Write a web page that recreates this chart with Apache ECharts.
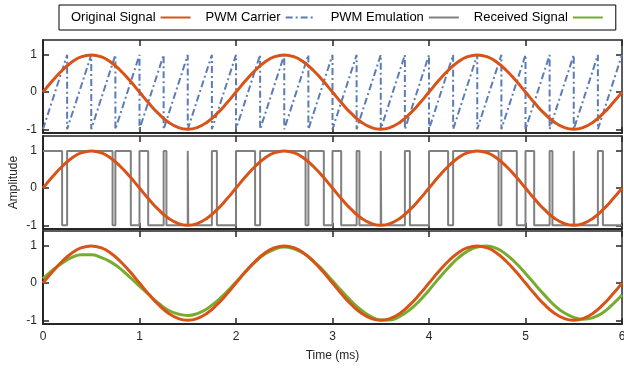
<!DOCTYPE html>
<html>
<head>
<meta charset="utf-8">
<script src="https://cdn.jsdelivr.net/npm/echarts@6/dist/echarts.min.js"></script>
<style>
  html, body { margin: 0; padding: 0; background: #fff; }
  #chart { width: 624px; height: 368px; }
</style>
</head>
<body>
<div id="chart"></div>
<script>
// sample times (ms) for the smooth curves
const sampleTimes = [
  0, 0.1, 0.2, 0.3, 0.4, 0.5, 0.6, 0.7, 0.8, 0.9,
  1, 1.1, 1.2, 1.3, 1.4, 1.5, 1.6, 1.7, 1.8, 1.9,
  2, 2.1, 2.2, 2.3, 2.4, 2.5, 2.6, 2.7, 2.8, 2.9,
  3, 3.1, 3.2, 3.3, 3.4, 3.5, 3.6, 3.7, 3.8, 3.9,
  4, 4.1, 4.2, 4.3, 4.4, 4.5, 4.6, 4.7, 4.8, 4.9,
  5, 5.1, 5.2, 5.3, 5.4, 5.5, 5.6, 5.7, 5.8, 5.9,
  6
]
const originalSignal = [
  0, 0.309, 0.588, 0.809, 0.951, 1, 0.951, 0.809, 0.588, 0.309,
  0, -0.309, -0.588, -0.809, -0.951, -1, -0.951, -0.809, -0.588, -0.309,
  0, 0.309, 0.588, 0.809, 0.951, 1, 0.951, 0.809, 0.588, 0.309,
  0, -0.309, -0.588, -0.809, -0.951, -1, -0.951, -0.809, -0.588, -0.309,
  0, 0.309, 0.588, 0.809, 0.951, 1, 0.951, 0.809, 0.588, 0.309,
  0, -0.309, -0.588, -0.809, -0.951, -1, -0.951, -0.809, -0.588, -0.309,
  0
]
const receivedSignal = [
  0.12, 0.35, 0.54, 0.69, 0.76, 0.76, 0.69, 0.57, 0.39, 0.16,
  -0.08, -0.32, -0.55, -0.73, -0.83, -0.87, -0.82, -0.69, -0.49, -0.25,
  0.03, 0.31, 0.57, 0.78, 0.91, 0.97, 0.92, 0.80, 0.60, 0.35,
  0.06, -0.23, -0.50, -0.73, -0.90, -0.99, -0.99, -0.89, -0.72, -0.48,
  -0.19, 0.12, 0.41, 0.67, 0.86, 0.97, 1.0, 0.93, 0.77, 0.54,
  0.26, -0.04, -0.33, -0.60, -0.80, -0.92, -0.97, -0.93, -0.80, -0.58,
  -0.32
]
// sawtooth carrier: ramps -1 -> 1, resets at these times
const carrierResets = [
  0.25, 0.5, 0.75, 1, 1.25, 1.5, 1.75, 2,
  2.25, 2.5, 2.75, 3, 3.25, 3.5, 3.75, 4,
  4.25, 4.5, 4.75, 5, 5.25, 5.5, 5.75, 6
]
// PWM output starts high at t=0 and toggles at these times
const pwmEdges = [
  0.198, 0.25, 0.721, 0.75, 0.91, 1.0, 1.09, 1.25, 1.279, 1.5, 1.505, 1.75, 1.802, 2.0,
  2.198, 2.25, 2.721, 2.75, 2.91, 3.0, 3.09, 3.25, 3.279, 3.5, 3.505, 3.75, 3.802, 4.0,
  4.198, 4.25, 4.721, 4.75, 4.91, 5.0, 5.09, 5.25, 5.279, 5.5, 5.505, 5.75, 5.802
]
const yTicks = [-1, 0, 1]

const orange = '#d95319'
const blue = '#5b7db3'
const gray = '#808080'
const green = '#77ac30'
const ink = '#262626'
const font = 'Liberation Sans, Arial, sans-serif'

const pair = (xs, ys) => xs.map((x, i) => [x, ys[i]])
const originalData = pair(sampleTimes, originalSignal)
const receivedData = pair(sampleTimes, receivedSignal)

const carrierData = [[0, -1]]
carrierResets.forEach((t, i) => {
  carrierData.push([t, 1])
  if (i < carrierResets.length - 1) carrierData.push([t, -1])
})

const pwmData = [[0, 1]]
let level = 1
pwmEdges.forEach(t => {
  pwmData.push([t, level])
  level = -level
  pwmData.push([t, level])
})
pwmData.push([6, level])

const tops = [40, 136, 231]
const panelH = 93

// outerBoundsMode none: keep all three panels exactly the same width
const grids = tops.map(top => ({ left: 43, right: 2, top: top, height: panelH, outerBoundsMode: 'none' }))

const xAxes = []
const yAxes = []
// bottom + left axes
for (let i = 0; i < 3; i++) {
  xAxes.push({
    type: 'value', gridIndex: i, min: 0, max: 6, interval: 1, position: 'bottom',
    axisLine: { show: true, onZero: false, lineStyle: { color: ink, width: 2 } },
    axisTick: { inside: true, length: 6, lineStyle: { color: ink, width: 1.5 } },
    axisLabel: { show: i === 2, color: ink, fontSize: 12, margin: 7, fontFamily: font },
    splitLine: { show: false },
    name: i === 2 ? 'Time (ms)' : '',
    nameLocation: 'middle', nameGap: 26,
    nameTextStyle: { color: ink, fontSize: 12, fontFamily: font }
  })
  yAxes.push({
    type: 'value', gridIndex: i, min: -1.1, max: 1.4, position: 'left',
    axisLine: { show: true, onZero: false, lineStyle: { color: ink, width: 2 } },
    axisTick: { inside: true, length: 6, customValues: yTicks, lineStyle: { color: ink, width: 1.5 } },
    axisLabel: { color: ink, fontSize: 12, margin: 6, customValues: yTicks, fontFamily: font },
    splitLine: { show: false },
    name: i === 1 ? 'Amplitude' : '',
    nameLocation: 'middle', nameGap: 23, nameMoveOverlap: false,
    nameTextStyle: { color: ink, fontSize: 12, fontFamily: font }
  })
}
// top + right axes (box with inside ticks)
for (let i = 0; i < 3; i++) {
  xAxes.push({
    type: 'value', gridIndex: i, min: 0, max: 6, interval: 1, position: 'top',
    axisLine: { show: true, onZero: false, lineStyle: { color: ink, width: 1.5 } },
    axisTick: { inside: true, length: 6, lineStyle: { color: ink, width: 1.5 } },
    axisLabel: { show: false },
    splitLine: { show: false }
  })
  yAxes.push({
    type: 'value', gridIndex: i, min: -1.1, max: 1.4, position: 'right',
    axisLine: { show: true, onZero: false, lineStyle: { color: ink, width: 1.5 } },
    axisTick: { inside: true, length: 6, customValues: yTicks, lineStyle: { color: ink, width: 1.5 } },
    axisLabel: { show: false },
    splitLine: { show: false }
  })
}

const line = (name, data, idx, color, width, extra) => Object.assign({
  name: name, type: 'line', data: data,
  xAxisIndex: idx, yAxisIndex: idx,
  symbol: 'none', animation: false,
  itemStyle: { color: color },
  lineStyle: { color: color, width: width }
}, extra || {})

const series = [
  line('PWM Carrier', carrierData, 0, blue, 2, { lineStyle: { color: blue, width: 2, type: [7, 3, 2, 3] }, z: 2 }),
  line('PWM Emulation', pwmData, 1, gray, 2, { z: 2 }),
  line('Received Signal', receivedData, 2, green, 3, { smooth: true, z: 2 }),
  line('Original Signal', originalData, 0, orange, 3, { smooth: true, z: 3 }),
  line('Original Signal', originalData, 1, orange, 3, { smooth: true, z: 3 }),
  line('Original Signal', originalData, 2, orange, 3, { smooth: true, z: 3 })
]

const chart = echarts.init(document.getElementById('chart'), null, { renderer: 'canvas' })
chart.setOption({
  animation: false,
  textStyle: { fontFamily: font },
  legend: {
    data: ['Original Signal', 'PWM Carrier', 'PWM Emulation', 'Received Signal'],
    left: 59, top: 5, width: 560,
    align: 'right',
    padding: [6, 12],
    itemGap: 14,
    itemWidth: 30, itemHeight: 10,
    itemStyle: { opacity: 0 },
    borderColor: '#000', borderWidth: 1,
    textStyle: { color: '#000', fontSize: 13 }
  },
  grid: grids,
  xAxis: xAxes,
  yAxis: yAxes,
  series: series
})
</script>
</body>
</html>
